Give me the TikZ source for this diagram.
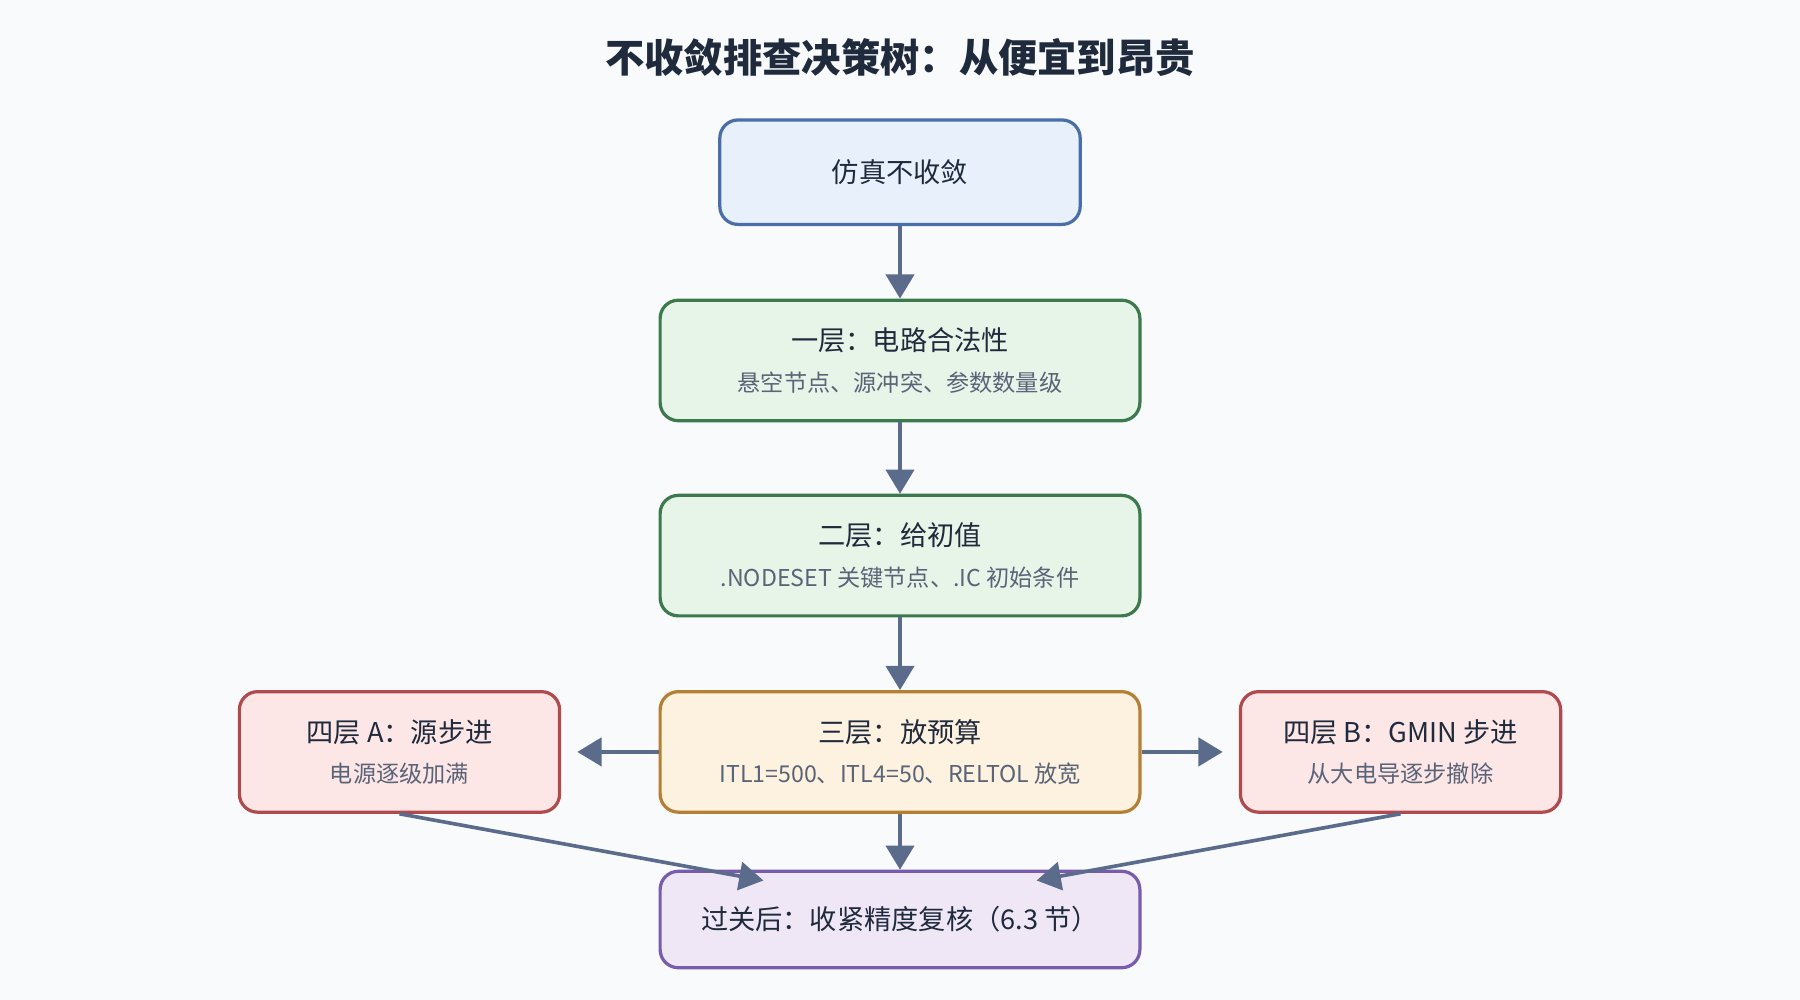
\documentclass[tikz,border=0pt]{standalone}
\usepackage{fontspec}
\setmainfont{Noto Sans CJK SC}
\usetikzlibrary{arrows.meta}
\definecolor{bgc}{HTML}{F8FAFC}
\definecolor{arrc}{HTML}{5B6B8C}
\definecolor{subc}{HTML}{5A6478}
\definecolor{titc}{HTML}{1F2A3C}
\definecolor{bluD}{HTML}{4A6FA8}\definecolor{bluF}{HTML}{E8F0FC}
\definecolor{grnD}{HTML}{3C7A4E}\definecolor{grnF}{HTML}{E7F4E8}
\definecolor{orgD}{HTML}{B58034}\definecolor{orgF}{HTML}{FDF1DF}
\definecolor{redD}{HTML}{B04A4E}\definecolor{redF}{HTML}{FCE7E6}
\definecolor{purD}{HTML}{7A5CAE}\definecolor{purF}{HTML}{EFE7F6}
\tikzset{
  box/.style={draw, line width=1.6pt, rounded corners=9pt, align=center,
    text=titc, font=\fontsize{13.5}{20}\selectfont, inner sep=0pt},
  blu/.style={box, draw=bluD, fill=bluF},
  grn/.style={box, draw=grnD, fill=grnF},
  org/.style={box, draw=orgD, fill=orgF},
  red/.style={box, draw=redD, fill=redF},
  pur/.style={box, draw=purD, fill=purF},
  flow/.style={-{Triangle[length=12pt,width=14pt]}, draw=arrc, line width=1.8pt},
}
\newcommand{\subt}[1]{\\{\fontsize{11.5}{14}\selectfont\color{subc}#1}}
\begin{document}
\begin{tikzpicture}[x=0.02cm, y=-0.02cm]
\useasboundingbox[fill=bgc] (0,0) rectangle (1568,871);
% title
\node[font=\fontsize{19.5}{24}\selectfont\bfseries, text=titc] (title) at (784,50) {不收敛排查决策树：从便宜到昂贵};
% boxes
\node[blu, minimum width=6.28cm, minimum height=1.82cm] (start) at (784,150) {仿真不收敛};
\node[grn, minimum width=8.36cm, minimum height=2.1cm] (l1) at (784,314) {一层：电路合法性\subt{悬空节点、源冲突、参数数量级}};
\node[grn, minimum width=8.36cm, minimum height=2.1cm] (l2) at (784,484) {二层：给初值\subt{.NODESET 关键节点、.IC 初始条件}};
\node[org, minimum width=8.36cm, minimum height=2.1cm] (l3) at (784,655) {三层：放预算\subt{ITL1=500、ITL4=50、RELTOL 放宽}};
\node[red, minimum width=5.58cm, minimum height=2.1cm] (l4a) at (348,655) {四层 A：源步进\subt{电源逐级加满}};
\node[red, minimum width=5.58cm, minimum height=2.1cm] (l4b) at (1220,655) {四层 B：GMIN 步进\subt{从大电导逐步撤除}};
\node[pur, minimum width=8.36cm, minimum height=1.68cm] (done) at (784,801) {过关后：收紧精度复核（6.3 节）};
% connectors
\coordinate (ta) at (665,767);
\coordinate (tb) at (903,767);
\draw[flow] (start) -- (l1);
\draw[flow] (l1) -- (l2);
\draw[flow] (l2) -- (l3);
\draw[flow, shorten >=8pt] (l3) -- (l4a);
\draw[flow, shorten >=8pt] (l3) -- (l4b);
\draw[flow] (l3) -- (done);
\draw[flow] (l4a.south) -- (ta);
\draw[flow] (l4b.south) -- (tb);
\end{tikzpicture}
\end{document}
